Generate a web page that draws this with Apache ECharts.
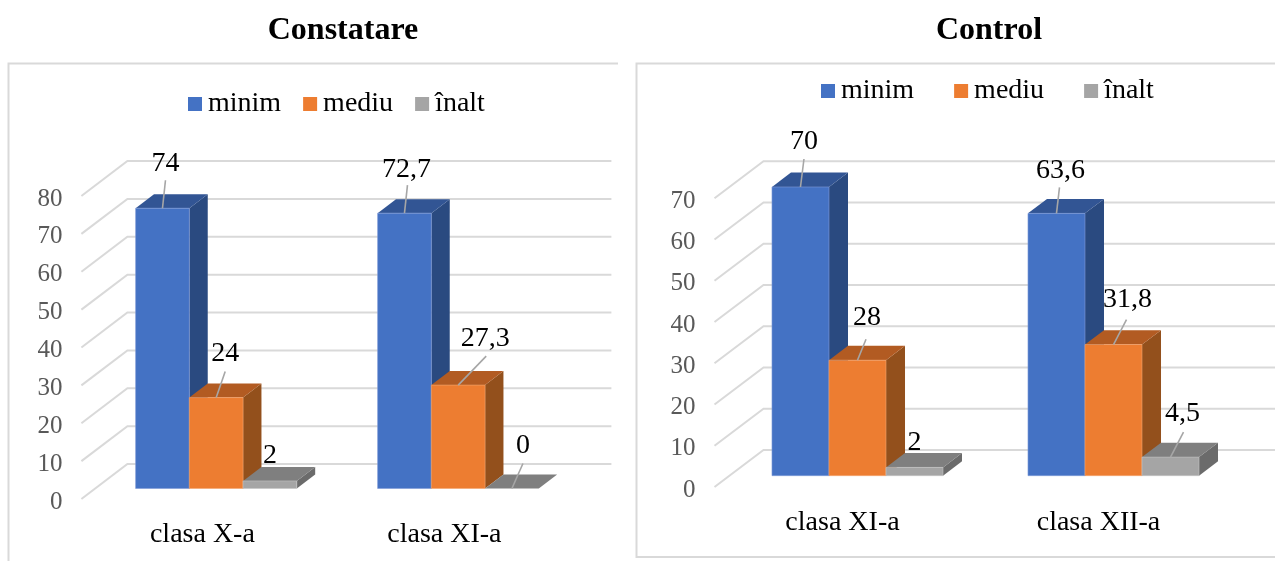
<!DOCTYPE html>
<html>
<head>
<meta charset="utf-8">
<style>
  html, body { margin: 0; padding: 0; background: #fff; }
  #chart { width: 1275px; height: 561px; }
</style>
<script src="https://cdn.jsdelivr.net/npm/echarts@6/dist/echarts.min.js"></script>
</head>
<body>
<div id="chart"></div>
<script>
// Level shares by class, two assessment stages
const seriesNames = ['minim', 'mediu', 'înalt'];

const constatareTitle = 'Constatare';
const constatareClasses = ['clasa X-a', 'clasa XI-a'];
const constatareMinim = [74, 72.7];
const constatareMediu = [24, 27.3];
const constatareInalt = [2, 0];
const constatareTicks = [0, 10, 20, 30, 40, 50, 60, 70, 80];

const controlTitle = 'Control';
const controlClasses = ['clasa XI-a', 'clasa XII-a'];
const controlMinim = [70, 63.6];
const controlMediu = [28, 31.8];
const controlInalt = [2, 4.5];
const controlTicks = [0, 10, 20, 30, 40, 50, 60, 70];

// Box faces: front, side, top
const faces = [
  ['#4472c4', '#2a4a80', '#325594'],
  ['#ed7d31', '#93501c', '#b25b22'],
  ['#a5a5a5', '#6b6b6b', '#7f7f7f']
];
const edgeColors = ['#7f9bd6', '#f3a671', '#c4c4c4'];

const SERIF = '"Liberation Serif", "Times New Roman", serif';
const WALL = '#d9d9d9';

// Oblique projection of each panel: wall depth, and how far the boxes sit inside it
const panels = [
  {
    left: 81.4, width: 484, top: 196, bottom: 62, depthX: 46, depthY: 35,
    inset: 0.3, barShare: 0.222,
    // label centre and leader end, relative to the middle of the box's top front edge
    labelAt: [
      [[3, -45, 3, -28], [2, -44, 3, -28]],
      [[9, -44, 9, -26], [27, -46, 28, -29]],
      [[0, -25], [11, -43, 11, -25]]
    ]
  },
  {
    left: 714.5, width: 512, top: 198.3, bottom: 74, depthX: 49, depthY: 37,
    inset: 0.306, barShare: 0.2227,
    labelAt: [
      [[3.5, -45, 3.5, -28], [4, -43, 3, -26]],
      [[9.5, -43, 8.5, -21], [14, -45, 13, -25]],
      [[0, -25], [12, -43, 13, -25]]
    ]
  }
];

function valueText(v) {
  return String(v).replace('.', ',');
}

// A shaded box for one class and one level
function boxSeries(panelIdx, levelIdx, values) {
  const panel = panels[panelIdx];
  return {
    type: 'custom',
    name: seriesNames[levelIdx],
    xAxisIndex: panelIdx,
    yAxisIndex: panelIdx,
    itemStyle: { color: faces[levelIdx][0] },
    data: values.map((v, i) => [i, v]),
    encode: { x: 0, y: 1 },
    clip: false,
    renderItem(params, api) {
      const cat = api.value(0);
      const val = api.value(1);
      const top = api.coord([cat, val]);
      const base = api.coord([cat, 0]);
      const w = api.size([1, 0])[0] * panel.barShare;
      const ox = panel.depthX * panel.inset;
      const oy = panel.depthY * panel.inset;
      const dx = panel.depthX * (1 - 2 * panel.inset);
      const dy = panel.depthY * (1 - 2 * panel.inset);
      const xL = top[0] + ox + (levelIdx - 1.5) * w;
      const xR = xL + w;
      const yT = top[1] - oy;
      const yB = base[1] - oy;
      const children = [];
      if (val > 0) {
        children.push({
          type: 'polygon',
          shape: { points: [[xR, yT], [xR + dx, yT - dy], [xR + dx, yB - dy], [xR, yB]] },
          style: { fill: faces[levelIdx][1] }
        });
      }
      children.push({
        type: 'polygon',
        shape: { points: [[xL, yT], [xL + dx, yT - dy], [xR + dx, yT - dy], [xR, yT]] },
        style: { fill: faces[levelIdx][2] }
      });
      if (val > 0) {
        children.push({
          type: 'rect',
          shape: { x: xL, y: yT, width: w, height: yB - yT },
          style: { fill: faces[levelIdx][0], stroke: edgeColors[levelIdx], lineWidth: 0.6 }
        });
      }
      const cx = (xL + xR) / 2;
      const spot = panel.labelAt[levelIdx][cat];
      if (spot.length === 4) {
        children.push({
          type: 'line',
          shape: { x1: cx, y1: yT, x2: cx + spot[2], y2: yT + spot[3] },
          style: { stroke: '#a6a6a6', lineWidth: 1.6 },
          z2: 50
        });
      }
      children.push({
        type: 'text',
        x: cx + spot[0],
        y: yT + spot[1],
        style: {
          text: valueText(val),
          fill: '#000',
          font: '28px ' + SERIF,
          align: 'center',
          verticalAlign: 'middle'
        },
        z2: 60
      });
      return { type: 'group', children };
    }
  };
}

// Receding floor and wall lines, one per axis tick
function wallSeries(panelIdx, ticks) {
  const panel = panels[panelIdx];
  return {
    type: 'custom',
    xAxisIndex: panelIdx,
    yAxisIndex: panelIdx,
    silent: true,
    clip: false,
    z: 0,
    data: ticks.map(t => [0, t]),
    encode: { x: 0, y: 1 },
    renderItem(params, api) {
      const y = api.coord([0, api.value(1)])[1];
      const x0 = panel.left;
      const xBack = x0 + panel.depthX;
      return {
        type: 'polyline',
        shape: {
          points: [[x0, y], [xBack, y - panel.depthY], [x0 + panel.width + panel.depthX, y - panel.depthY]]
        },
        style: { stroke: WALL, lineWidth: 2, fill: 'none' }
      };
    }
  };
}

function categoryAxis(idx, cats) {
  return {
    type: 'category',
    gridIndex: idx,
    data: cats,
    axisLine: { show: false },
    axisTick: { show: false },
    axisLabel: { color: '#000', fontSize: 28, fontFamily: SERIF, margin: 22 }
  };
}

function valueAxis(idx, ticks) {
  return {
    type: 'value',
    gridIndex: idx,
    min: ticks[0],
    max: ticks[ticks.length - 1],
    interval: ticks[1] - ticks[0],
    axisLine: { show: false },
    axisTick: { show: false },
    splitLine: { show: false },
    axisLabel: {
      margin: 19,
      formatter: '{tick|{value}}',
      rich: {
        tick: { color: '#595959', fontSize: 25, fontFamily: SERIF, padding: [6, 0, 0, 0] }
      }
    }
  };
}

function legend(left, top, gap) {
  return {
    left, top,
    padding: 0,
    data: seriesNames,
    icon: 'rect',
    itemWidth: 14,
    itemHeight: 14,
    itemGap: gap,
    selectedMode: false,
    textStyle: { color: '#000', fontSize: 28, fontFamily: SERIF, padding: [0, 0, 0, 1] }
  };
}

function title(text, center) {
  return {
    text,
    left: center,
    top: 15,
    padding: 0,
    textAlign: 'center',
    textStyle: { color: '#000', fontSize: 32, fontWeight: 'bold', fontFamily: SERIF }
  };
}

// Chart area outlines
const outline = points => ({
  type: 'polyline',
  shape: { points },
  style: { fill: 'none', stroke: WALL, lineWidth: 2 },
  silent: true
});

const chart = echarts.init(document.getElementById('chart'), null, { renderer: 'canvas' });
chart.setOption({
  animation: false,
  backgroundColor: '#fff',
  tooltip: { show: false },
  title: [title(constatareTitle, 343), title(controlTitle, 989)],
  legend: [legend(188, 90, 22), legend(821, 77, 40)],
  graphic: [
    outline([[8.5, 561], [8.5, 63.5], [618, 63.5]]),
    outline([[1275, 63.5], [636.5, 63.5], [636.5, 557], [1275, 557]])
  ],
  grid: panels.map(p => ({ left: p.left, width: p.width, top: p.top, bottom: p.bottom })),
  xAxis: [categoryAxis(0, constatareClasses), categoryAxis(1, controlClasses)],
  yAxis: [valueAxis(0, constatareTicks), valueAxis(1, controlTicks)],
  series: [
    wallSeries(0, constatareTicks),
    wallSeries(1, controlTicks),
    boxSeries(0, 0, constatareMinim),
    boxSeries(0, 1, constatareMediu),
    boxSeries(0, 2, constatareInalt),
    boxSeries(1, 0, controlMinim),
    boxSeries(1, 1, controlMediu),
    boxSeries(1, 2, controlInalt)
  ]
});
</script>
</body>
</html>
